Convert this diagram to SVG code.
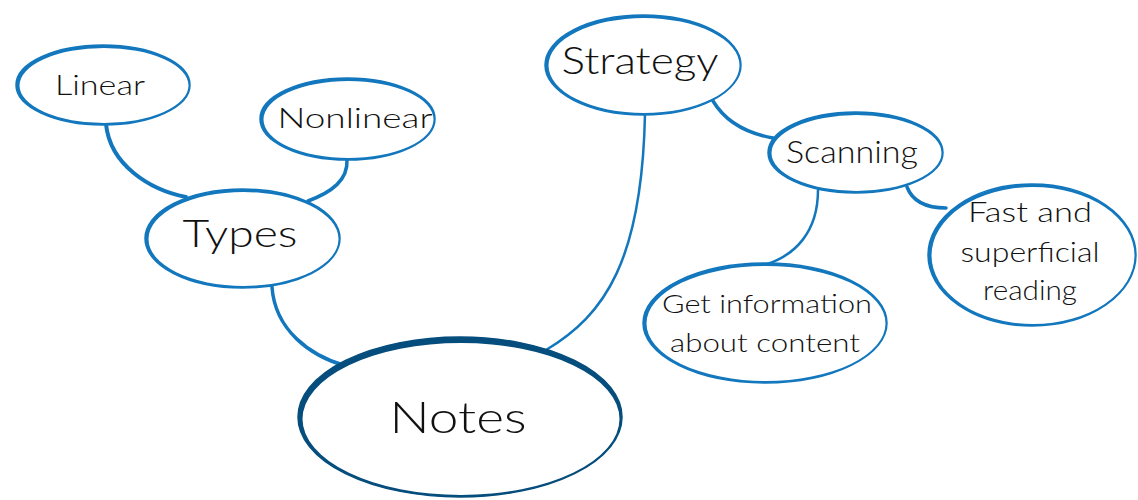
<svg xmlns="http://www.w3.org/2000/svg" width="1138" height="500" viewBox="0 0 1138 500">
<style>
.bg{fill:#ffffff}
.node{fill:#ffffff;stroke:#1277bd;stroke-width:1.5}
.rim{fill:#1277bd;fill-rule:evenodd}
.main .node{stroke:#054d7c}
.main .rim{fill:#054d7c}
.conn{fill:none;stroke:#1277bd;stroke-linecap:round}
text{font-family:"Lato","Open Sans",sans-serif;font-weight:300;fill:#111111;text-anchor:middle}
</style>
<rect class="bg" width="1138" height="500"/>
<g id="connectors">
<path class="conn" stroke-width="4" d="M106,124 C110,165 150,190 186,197"/>
<path class="conn" stroke-width="3.5" d="M347,160 C348,180 332,192 308,201"/>
<path class="conn" stroke-width="3.5" d="M272,287 C275,330 310,356 346,366"/>
<path class="conn" stroke-width="2.5" d="M546,350 C605,315 642,260 645,114"/>
<path class="conn" stroke-width="3.5" d="M713,101 C725,121 745,133 773,138"/>
<path class="conn" stroke-width="2.5" d="M818,190 C818,232 795,256 764,265"/>
<path class="conn" stroke-width="3.5" d="M907,187 C912,200 925,208 946,208"/>
</g>
<g id="linear">
<ellipse class="node" cx="103" cy="85" rx="87" ry="40"/>
<path class="rim" d="M16,85 a87,40 0 1,0 174,0 a87,40 0 1,0 -174,0 Z M19.5,85.5 a84.5,37.5 0 1,0 169,0 a84.5,37.5 0 1,0 -169,0 Z"/>
<text x="100" y="95" font-size="28" textLength="90" lengthAdjust="spacingAndGlyphs">Linear</text>
</g>
<g id="nonlinear">
<ellipse class="node" cx="347.5" cy="119" rx="87.5" ry="41"/>
<path class="rim" d="M260,119 a87.5,41 0 1,0 175,0 a87.5,41 0 1,0 -175,0 Z M263.5,119.5 a85,38.5 0 1,0 170,0 a85,38.5 0 1,0 -170,0 Z"/>
<text x="355" y="128" font-size="28" textLength="155" lengthAdjust="spacingAndGlyphs">Nonlinear</text>
</g>
<g id="types">
<ellipse class="node" cx="242.5" cy="238.5" rx="97.5" ry="49.5"/>
<path class="rim" d="M145,238.5 a97.5,49.5 0 1,0 195,0 a97.5,49.5 0 1,0 -195,0 Z M148.5,239 a95,47 0 1,0 190,0 a95,47 0 1,0 -190,0 Z"/>
<text x="240" y="247" font-size="38" textLength="115" lengthAdjust="spacingAndGlyphs">Types</text>
</g>
<g id="strategy">
<ellipse class="node" cx="643" cy="65" rx="98" ry="50"/>
<path class="rim" d="M545,65 a98,50 0 1,0 196,0 a98,50 0 1,0 -196,0 Z M548.5,65.5 a95.5,47.5 0 1,0 191,0 a95.5,47.5 0 1,0 -191,0 Z"/>
<text x="640" y="74" font-size="38" textLength="157" lengthAdjust="spacingAndGlyphs">Strategy</text>
</g>
<g id="scanning">
<ellipse class="node" cx="855.5" cy="152.5" rx="87.5" ry="40.5"/>
<path class="rim" d="M768,152.5 a87.5,40.5 0 1,0 175,0 a87.5,40.5 0 1,0 -175,0 Z M771.5,153 a85,38 0 1,0 170,0 a85,38 0 1,0 -170,0 Z"/>
<text x="852" y="163" font-size="31" textLength="132" lengthAdjust="spacingAndGlyphs">Scanning</text>
</g>
<g id="fast-reading">
<ellipse class="node" cx="1032" cy="255" rx="104" ry="71"/>
<path class="rim" d="M928,255 a104,71 0 1,0 208,0 a104,71 0 1,0 -208,0 Z M931.5,255.5 a101.5,68.5 0 1,0 203,0 a101.5,68.5 0 1,0 -203,0 Z"/>
<text x="1030" y="222" font-size="27" textLength="124" lengthAdjust="spacingAndGlyphs">Fast and</text>
<text x="1030" y="262" font-size="27" textLength="139" lengthAdjust="spacingAndGlyphs">superficial</text>
<text x="1030" y="300" font-size="27" textLength="94" lengthAdjust="spacingAndGlyphs">reading</text>
</g>
<g id="get-information">
<ellipse class="node" cx="765" cy="323" rx="122" ry="60"/>
<path class="rim" d="M643,323 a122,60 0 1,0 244,0 a122,60 0 1,0 -244,0 Z M646.5,323.5 a119.5,57.5 0 1,0 239,0 a119.5,57.5 0 1,0 -239,0 Z"/>
<text x="767" y="313" font-size="25" textLength="210" lengthAdjust="spacingAndGlyphs">Get information</text>
<text x="765" y="352" font-size="25" textLength="190" lengthAdjust="spacingAndGlyphs">about content</text>
</g>
<g id="notes" class="main">
<ellipse class="node" cx="460" cy="417" rx="162" ry="80"/>
<path class="rim" d="M298,417 a162,80 0 1,0 324,0 a162,80 0 1,0 -324,0 Z M302.5,419 a158.5,76 0 1,0 317,0 a158.5,76 0 1,0 -317,0 Z"/>
<text x="458" y="433" font-size="44" textLength="137" lengthAdjust="spacingAndGlyphs">Notes</text>
</g>
</svg>
